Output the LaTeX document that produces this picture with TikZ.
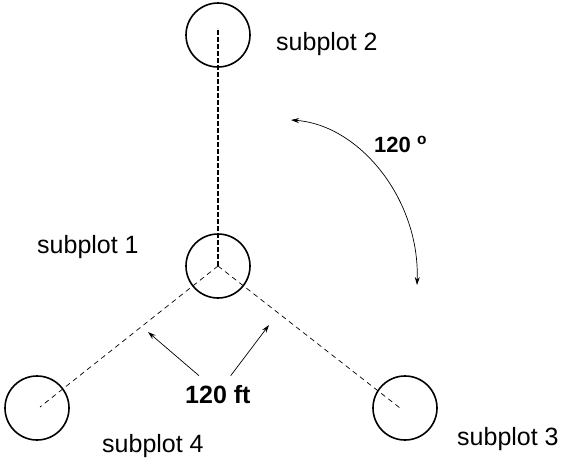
\documentclass[tikz,border=0pt]{standalone}
\usepackage{fontspec}
\setmainfont{Liberation Sans}
\usetikzlibrary{arrows.meta}
\usetikzlibrary{positioning,calc}
\tikzset{plot/.style={circle,draw,line width=1.6pt,minimum size=64pt,inner sep=0pt},
   lbl/.style={anchor=base west,inner sep=0pt,font=\fontsize{25}{30}\selectfont},
   link/.style={line width=0.7pt,dash pattern=on 5pt off 4pt},
   arr/.style={line width=0.7pt,-{Stealth[length=8pt,width=5pt]}}}

\begin{document}
\begin{tikzpicture}[x=1pt,y=-1pt]
      \useasboundingbox (0,0) rectangle (564,461);

      \node[plot] (s1) at (218,266) {};
      \node[plot] (s2) at (218,35) {};
      \node[plot] (s3) at (405,408) {};
      \node[plot] (s4) at (37,408) {};

      \node[lbl] (l1) at (37,253) {subplot 1};
      \node[lbl] (l2) at (276,50) {subplot 2};
      \node[lbl] (l3) at (457,445) {subplot 3};
      \node[lbl] (l4) at (102,452) {subplot 4};

      \node[lbl,font=\bfseries\fontsize{25}{30}\selectfont] (ft) at (185,403) {120 ft};
      \node[lbl,font=\bfseries\fontsize{22}{26}\selectfont] (deg) at (374,152) {120 \textsuperscript{o}};

      \coordinate (a0) at (291,120);
      \coordinate (a1) at (417,285);
      \coordinate (t1) at (148,332);
      \coordinate (t2) at (269,325);

      \draw[link,line width=1.1pt,dash pattern=on 5pt off 2pt] (s1.center) -- ([yshift=7pt]s2.center);
      \draw[link] (s1.center) -- ([shift={(3pt,1pt)}]s4.center);
      \draw[link] (s1.center) -- ([xshift=-5pt]s3.center);

      \draw[arr,{Stealth[length=8pt,width=5pt]}-{Stealth[length=8pt,width=5pt]}] (a0) .. controls (360,125) and (420,200) .. (a1);
      \draw[arr] ([shift={(14pt,9pt)}]ft.north west) -- (t1);
      \draw[arr] ([shift={(-20pt,9pt)}]ft.north east) -- (t2);
\end{tikzpicture}
\end{document}
